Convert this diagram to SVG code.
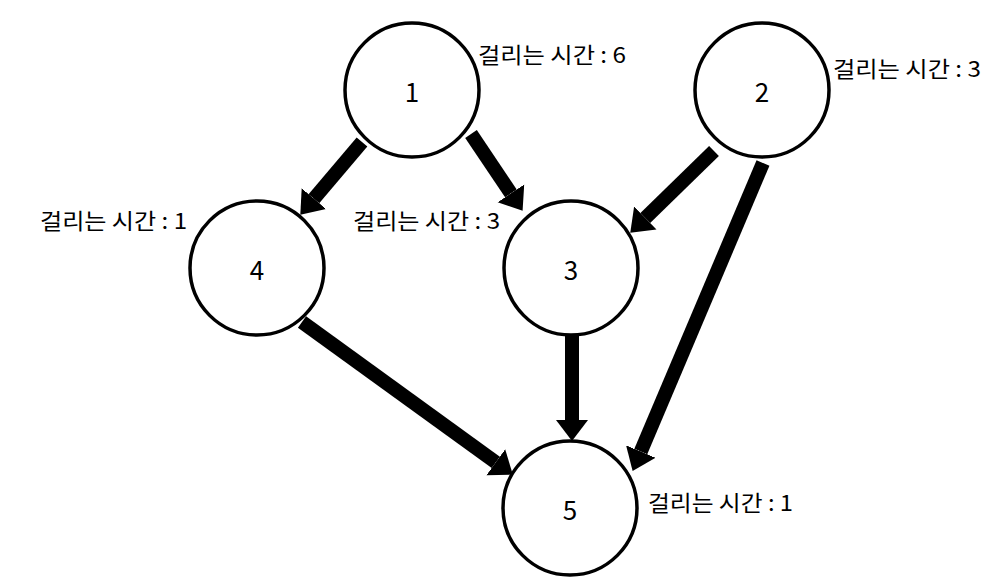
<svg xmlns="http://www.w3.org/2000/svg" width="996" height="588" viewBox="0 0 996 588">
<style>
.node{fill:#fff;stroke:#000;stroke-width:3.5}
.num{font-family:"Noto Sans CJK KR","Liberation Sans",sans-serif;font-size:26px;text-anchor:middle;fill:#000}
.lbl{font-family:"Noto Sans CJK KR","Liberation Sans",sans-serif;font-size:22px;fill:#000}
.edge{stroke:#000;stroke-width:14;fill:none;marker-end:url(#ah)}
</style>
<defs>
<marker id="ah" markerUnits="userSpaceOnUse" viewBox="0 -17 22 34" markerWidth="22" markerHeight="34" refX="0" refY="0" orient="auto">
<path d="M0,-16 L21,0 L0,16 z" fill="#000"/>
</marker>
</defs>
<rect width="996" height="588" fill="#fff"/>
<g id="connectors">
<line class="edge" x1="362" y1="142" x2="313.9" y2="198.7"/>
<line class="edge" x1="471" y1="134" x2="510.9" y2="193.4"/>
<line class="edge" x1="714" y1="151" x2="645.3" y2="218"/>
<line class="edge" x1="763" y1="163" x2="640.8" y2="451.6"/>
<line class="edge" x1="572" y1="334" x2="572" y2="420"/>
<line class="edge" x1="302" y1="322" x2="495.8" y2="462.3"/>
</g>
<g id="node1"><circle class="node" cx="412" cy="90" r="67"/><text class="num" x="412" y="102">1</text><text class="lbl" x="478" y="63" textLength="148" lengthAdjust="spacingAndGlyphs">걸리는 시간 : 6</text></g>
<g id="node2"><circle class="node" cx="762" cy="90" r="67"/><text class="num" x="762" y="102">2</text><text class="lbl" x="833" y="77" textLength="148" lengthAdjust="spacingAndGlyphs">걸리는 시간 : 3</text></g>
<g id="node4"><circle class="node" cx="257" cy="268" r="67"/><text class="num" x="257" y="280">4</text><text class="lbl" x="40" y="229" textLength="147" lengthAdjust="spacingAndGlyphs">걸리는 시간 : 1</text></g>
<g id="node3"><circle class="node" cx="571" cy="268" r="67"/><text class="num" x="571" y="280">3</text><text class="lbl" x="353" y="229" textLength="147" lengthAdjust="spacingAndGlyphs">걸리는 시간 : 3</text></g>
<g id="node5"><circle class="node" cx="570" cy="508" r="67"/><text class="num" x="570" y="520">5</text><text class="lbl" x="648" y="511" textLength="145" lengthAdjust="spacingAndGlyphs">걸리는 시간 : 1</text></g>
</svg>
